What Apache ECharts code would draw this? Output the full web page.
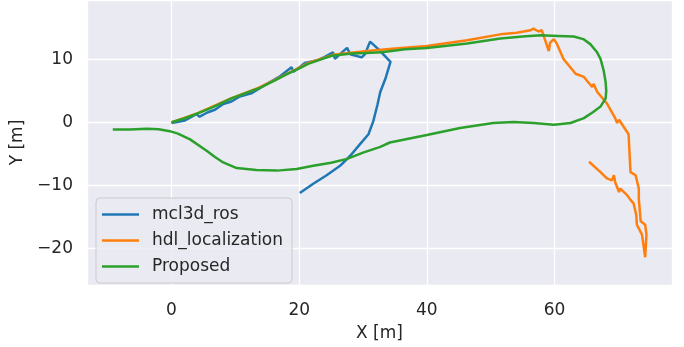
<!DOCTYPE html>
<html>
<head>
<meta charset="utf-8">
<script src="https://cdn.jsdelivr.net/npm/echarts@6/dist/echarts.min.js"></script>
<style>
  html, body { margin: 0; padding: 0; background: #ffffff; }
  #chart { width: 684px; height: 347px; }
</style>
</head>
<body>
<div id="chart"></div>
<script>
// trajectories, [x, y] in metres
const mcl3dRos = [
  [0, -0.1], [2.1, 0.3], [3.9, 1.3], [4.4, 0.9], [5.7, 1.6], [6.8, 2.0], [8.1, 2.9],
  [9.4, 3.3], [10.7, 4.1], [12.5, 4.6], [14.6, 5.9], [17, 7.3], [18.8, 8.75], [19.1, 8.0],
  [20.9, 9.4], [23, 9.9], [24, 10.4], [25.3, 11.1], [25.6, 10.05], [26.7, 11.1], [27.5, 11.8],
  [28, 10.8], [29.8, 10.3], [30.3, 10.8], [31.1, 12.8], [32.4, 11.6], [34.3, 9.6],
  [33.5, 6.9], [32.7, 4.8], [32.25, 2.75], [31.6, 0.15], [30.85, -1.9], [29.5, -3.5],
  [28, -5.3], [26.4, -6.9], [24.3, -8.4], [22.2, -9.75], [20.1, -11.2]
];

const hdlLocalization = [
  [0, 0], [4.2, 1.5], [9.4, 3.85], [13.6, 5.45], [16.2, 6.75], [19.86, 8.6], [21.4, 9.4],
  [25.3, 10.7], [30.6, 11.3], [35, 11.7], [40, 12.1], [46.3, 13.0], [51.5, 13.95],
  [54.1, 14.2], [56.2, 14.6], [56.7, 14.85], [57.5, 14.4], [58, 14.6], [58.3, 13.7],
  [59.1, 11.3], [59.3, 12.65], [59.9, 13.2], [60.4, 12.4], [61.4, 10.05], [63.3, 7.7],
  [64.6, 7.2], [65.9, 5.6], [66.1, 6.1], [66.7, 4.8], [68.2, 3.0], [69.5, 0.67],
  [69.8, -0.1], [70.1, 0.4], [71.6, -1.9], [71.9, -7.9], [72.7, -8.4], [73.2, -10.5],
  [73.2, -12.1], [73.5, -15.7], [74.2, -16.25], [74.4, -17.8], [74.2, -21.4], [73.7, -17.8],
  [72.9, -16.25], [72.8, -14.7], [72.4, -12.9], [71.9, -12.3], [71.4, -11.6], [70.3, -10.5],
  [70.1, -11.05], [69.5, -9.5], [69.3, -8.4], [69, -9.2], [68.2, -8.9], [67.2, -7.9],
  [65.4, -6.25]
];

const proposed = [
  [0, 0], [2, 0.6], [4.2, 1.45], [6.5, 2.4], [9.4, 3.8], [11.5, 4.6], [13.6, 5.36],
  [16.2, 6.66], [18, 7.6], [19.86, 8.48], [21.4, 9.27], [23.2, 9.9], [25.1, 10.56],
  [28.2, 10.9], [30.5, 11.0], [32.9, 11.1], [36.6, 11.6], [40, 11.8], [46.3, 12.5],
  [51.5, 13.3], [55, 13.6], [57.8, 13.8], [60.5, 13.7], [63, 13.6], [64.5, 13.2],
  [65.6, 12.4], [66.6, 11.2], [67.2, 10.05], [67.7, 8.2], [68, 6.4], [68.1, 5], [68, 3.8],
  [67.2, 2.5], [66, 1.6], [64.6, 0.67], [62.5, -0.1], [59.9, -0.37], [56.7, -0.1],
  [53.6, 0.05], [50.4, -0.1], [45.2, -0.9], [40, -2.0], [34.2, -3.2], [32.7, -3.9],
  [30, -4.8], [27.5, -5.8], [25, -6.4], [22.2, -6.9], [19.6, -7.4], [16.5, -7.66],
  [13.3, -7.56], [10.2, -7.25], [8.1, -6.36], [6.8, -5.5], [5.5, -4.5], [2.9, -2.7],
  [1, -1.8], [-0.27, -1.4], [-2, -1.1], [-3.9, -1.0], [-6.5, -1.15], [-9.2, -1.15]
];

const seriesNames = ['mcl3d_ros', 'hdl_localization', 'Proposed'];
const seriesColors = ['#1f77b4', '#ff7f0e', '#2ca02c'];
const seriesData = [mcl3dRos, hdlLocalization, proposed];

const textColor = '#262626';
const font = 'DejaVu Sans';

const chart = echarts.init(document.getElementById('chart'), null, { renderer: 'canvas' });

const minus = (v) => String(v).replace('-', '\u2212');

const option = {
  animation: false,
  backgroundColor: '#ffffff',
  grid: {
    left: 87,
    right: 12,
    top: 0,
    bottom: 58,
    show: true,
    backgroundColor: '#eaeaf2',
    borderWidth: 0
  },
  xAxis: {
    type: 'value',
    min: -13.24,
    max: 78.4,
    minInterval: 20,
    maxInterval: 20,
    name: 'X [m]',
    nameLocation: 'middle',
    nameGap: 40,
    nameTextStyle: { color: textColor, fontSize: 17, fontFamily: font },
    axisLine: { show: false },
    axisTick: { show: false },
    axisLabel: {
      color: textColor,
      fontSize: 17,
      fontFamily: font,
      margin: 17,
      showMinLabel: false,
      showMaxLabel: false,
      formatter: minus
    },
    splitLine: { show: true, lineStyle: { color: '#ffffff', width: 1.3 } }
  },
  yAxis: {
    type: 'value',
    min: -25.8,
    max: 19.4,
    minInterval: 10,
    maxInterval: 10,
    name: 'Y [m]',
    nameLocation: 'middle',
    nameGap: 48,
    nameTextStyle: { color: textColor, fontSize: 17, fontFamily: font },
    axisLine: { show: false },
    axisTick: { show: false },
    axisLabel: {
      color: textColor,
      fontSize: 17,
      fontFamily: font,
      margin: 14,
      padding: [4, 0, 0, 0],
      showMinLabel: false,
      showMaxLabel: false,
      formatter: minus
    },
    splitLine: { show: true, lineStyle: { color: '#ffffff', width: 1.3 } }
  },
  legend: {
    orient: 'vertical',
    left: 96,
    top: 198,
    padding: [8, 9, 8, 6],
    itemGap: 9,
    itemWidth: 37,
    itemHeight: 2.5,
    icon: 'rect',
    backgroundColor: 'rgba(234,234,242,0.8)',
    borderColor: '#cccccc',
    borderWidth: 1,
    borderRadius: 4,
    textStyle: {
      color: textColor,
      fontSize: 17,
      fontFamily: font,
      padding: [0, 0, 0, 8]
    },
    data: seriesNames
  },
  series: seriesNames.map((name, i) => ({
    name: name,
    type: 'line',
    data: seriesData[i],
    showSymbol: false,
    symbol: 'none',
    clip: true,
    color: seriesColors[i],
    lineStyle: { color: seriesColors[i], width: 2.5 }
  }))
};

chart.setOption(option);
</script>
</body>
</html>
